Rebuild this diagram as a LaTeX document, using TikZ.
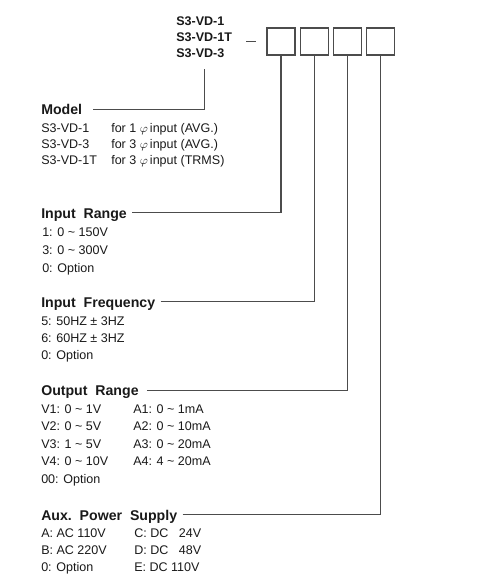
\documentclass[tikz,border=0pt]{standalone}
\usepackage{fontspec}
\setmainfont{Liberation Sans}
\usetikzlibrary{positioning}

\begin{document}
\begin{tikzpicture}[
  x=0.75pt, y=-0.75pt,
  body/.style={anchor=base west, inner sep=0pt, align=left, text=black!90,
               font=\fontsize{9.4}{#1}\selectfont},
  body/.default=12.75pt,
  head/.style={anchor=base west, inner sep=0pt, text height=7.6pt, text depth=0pt,
               text=black!90, font=\fontsize{10.6}{13}\selectfont\bfseries},
  slot/.style={rectangle, draw=black!70, line width=0.9pt,
               minimum width=21pt, minimum height=20.25pt, inner sep=0pt},
  wire/.style={draw=black!70, line width=0.8pt}
]
\useasboundingbox (0,0) rectangle (482,588);
%% part number (nodes sit on the baseline of their last line)
\node[body=12pt, font=\fontsize{9.4}{12}\selectfont\bfseries] (models) at (176,58)
     {S3-VD-1\\S3-VD-1T\\S3-VD-3};
\coordinate (dash) at (246,41.7);
\draw[wire] (dash) -- ++(10,0);
\node[slot] (slot1) at (281,41.5) {};
\node[slot, right=3pt of slot1] (slot2) {};
\node[slot, right=3pt of slot2] (slot3) {};
\node[slot, right=3pt of slot3] (slot4) {};
%% model
\node[head] (h_model) at (41,114.5) {Model};
\node[body=12pt] (model_code) at (41,164) {S3-VD-1\\S3-VD-3\\S3-VD-1T};
\node[body=12pt] (model_desc) at (111,164)
     {for 1 $\varphi$\,input (AVG.)\\for 3 $\varphi$\,input (AVG.)\\for 3 $\varphi$\,input (TRMS)};
%% input range
\node[head] (h_range) at (41,218) {Input~~Range};
\node[body=13.5pt] (range_opt) at (42,272)
     {1: 0 \textasciitilde{} 150V\\3: 0 \textasciitilde{} 300V\\0: Option};
%% input frequency
\node[head] (h_freq) at (41,307) {Input~~Frequency};
\node[body] (freq_opt) at (41,359) {5: 50HZ ± 3HZ\\6: 60HZ ± 3HZ\\0: Option};
%% output range
\node[head] (h_out) at (41,395.7) {Output~~Range};
\node[body=13.1pt] (out_volt) at (41,483)
     {V1: 0 \textasciitilde{} 1V\\V2: 0 \textasciitilde{} 5V\\V3: 1 \textasciitilde{} 5V\\
      V4: 0 \textasciitilde{} 10V\\00: Option};
\node[body=13.1pt] (out_amp) at (133,465.5)
     {A1: 0 \textasciitilde{} 1mA\\A2: 0 \textasciitilde{} 10mA\\A3: 0 \textasciitilde{} 20mA\\
      A4: 4 \textasciitilde{} 20mA};
%% aux power supply
\node[head] (h_aux) at (41,520) {Aux.~~Power~~Supply};
\node[body] (aux_ac) at (41,571) {A: AC 110V\\B: AC 220V\\0: Option};
\node[body] (aux_dc) at (134,571) {C: DC~~~24V\\D: DC~~~48V\\E: DC 110V};
%% connectors
\draw[wire, shorten <=8pt] (h_model.east) -| ([yshift=-8pt]models.south);
\draw[wire, shorten <=4pt] (h_range.east) -| (slot1.south);
\draw[wire, shorten <=4pt] (h_freq.east)  -| (slot2.south);
\draw[wire, shorten <=6pt] (h_out.east)   -| (slot3.south);
\draw[wire, shorten <=4pt] (h_aux.east)   -| (slot4.south);
\end{tikzpicture}
\end{document}
